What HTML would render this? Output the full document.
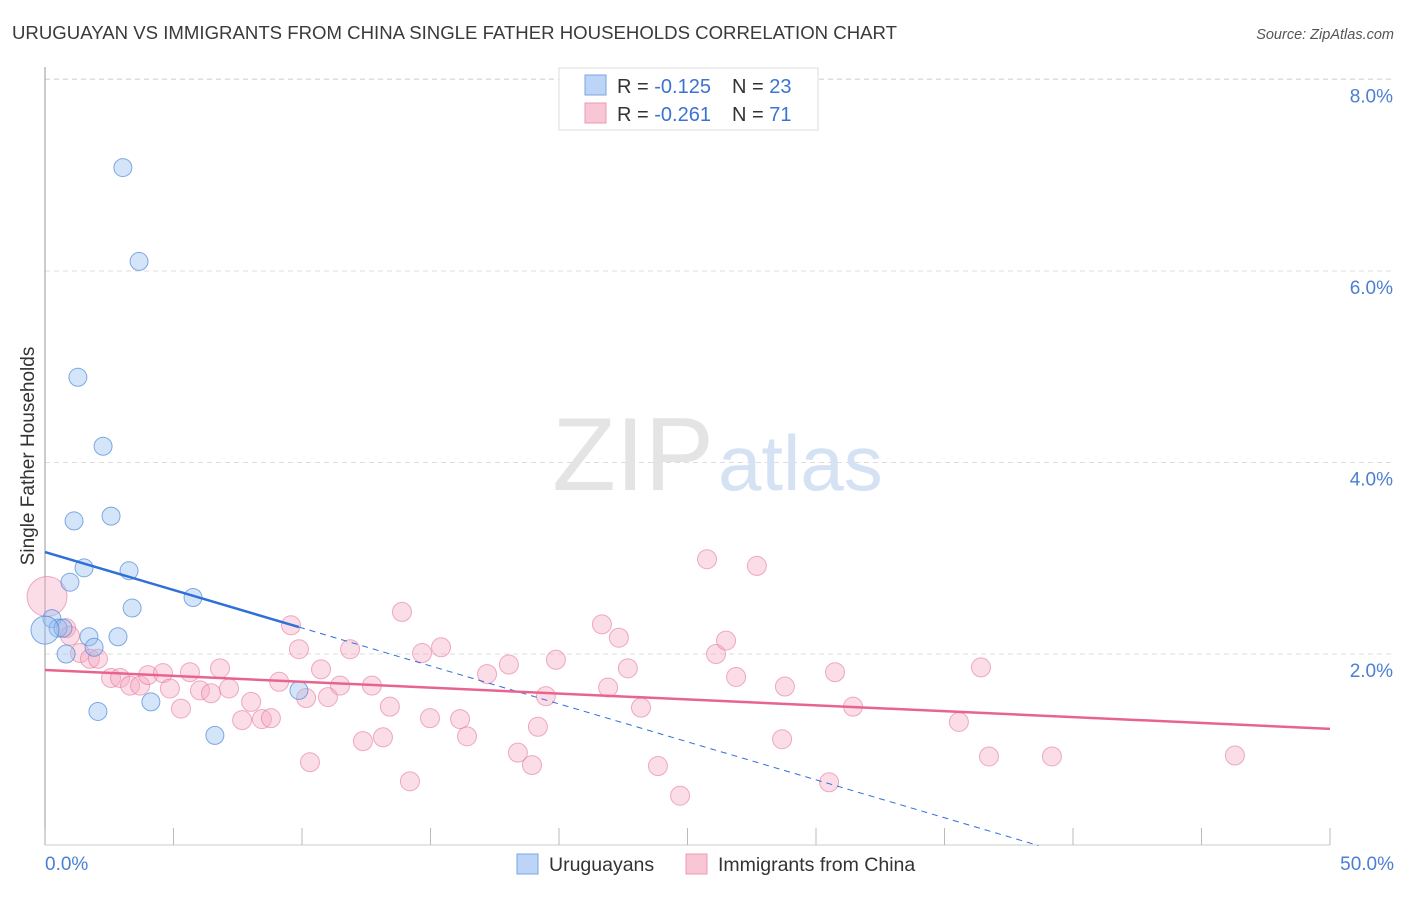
<!DOCTYPE html>
<html><head><meta charset="utf-8"><style>
body{margin:0;background:#fff;font-family:"Liberation Sans",sans-serif;}
svg text{font-family:"Liberation Sans",sans-serif;}
</style></head><body>
<svg id="chart" width="1406" height="892" xmlns="http://www.w3.org/2000/svg">
<text x="12" y="39" font-size="18.6" fill="#3a3a3a" textLength="885">URUGUAYAN VS IMMIGRANTS FROM CHINA SINGLE FATHER HOUSEHOLDS CORRELATION CHART</text>
<text x="1394" y="39" font-size="14.5" fill="#555" text-anchor="end" font-style="italic">Source: ZipAtlas.com</text>
<g id="grid"></g>
<text x="714" y="490" font-size="104" fill="#e4e4e4" text-anchor="end" font-family="Liberation Serif">ZIP</text>
<text x="718" y="490" font-size="78" fill="#d4e2f4">atlas</text>
<line x1="45" y1="67" x2="45" y2="845" stroke="#aaa" stroke-width="1.2"/>
<line x1="45" y1="845" x2="1330" y2="845" stroke="#ccc" stroke-width="1"/>
<g id="xticks"></g>
<text transform="translate(34,456) rotate(-90)" font-size="19" fill="#333" text-anchor="middle">Single Father Households</text>
<text x="45" y="870" font-size="19" fill="#4a7fd4">0.0%</text>
<text x="1394" y="870" font-size="19" fill="#4a7fd4" text-anchor="end">50.0%</text>
<g id="pinkpts"></g>
<g id="bluepts"></g>
<g id="lines"></g>
<g>
<rect x="559" y="68" width="259" height="62" fill="#fff" stroke="#ddd"/>
<rect x="585" y="75" width="21" height="20" fill="#bcd4f5" stroke="#7ba6e4"/>
<rect x="585" y="103" width="21" height="20" fill="#f9c6d5" stroke="#eb9ab4"/>
<text x="617" y="93" font-size="20" fill="#333">R = <tspan fill="#3b73d4">-0.125</tspan><tspan x="732">N = </tspan><tspan fill="#3b73d4">23</tspan></text>
<text x="617" y="121" font-size="20" fill="#333">R = <tspan fill="#3b73d4">-0.261</tspan><tspan x="732">N = </tspan><tspan fill="#3b73d4"> 71</tspan></text>
</g>
<g>
<rect x="517" y="854" width="21" height="20" fill="#bcd4f5" stroke="#7ba6e4"/>
<text x="549" y="871" font-size="19.5" fill="#333">Uruguayans</text>
<rect x="686" y="854" width="21" height="20" fill="#f9c6d5" stroke="#eb9ab4"/>
<text x="718" y="871" font-size="19.5" fill="#333">Immigrants from China</text>
</g>
</svg>
<script>
const yTicks=[2,4,6,8];
const yTickLabels=["2.0%","4.0%","6.0%","8.0%"];
const xTicks=[0,5,10,15,20,25,30,35,40,45,50];
const blueX=[3.03,3.66,1.28,2.26,1.13,2.57,0.97,1.52,3.27,3.39,5.76,0.27,0.51,0.70,1.71,2.84,0.82,1.91,4.12,2.06,6.61,9.88,0];
const blueY=[7.08,6.10,4.89,4.17,3.39,3.44,2.75,2.90,2.87,2.48,2.59,2.37,2.27,2.27,2.18,2.18,2.00,2.07,1.50,1.40,1.15,1.62,2.25];
const pinkX=[0.08,0.82,0.97,1.36,1.75,2.06,2.57,2.92,3.31,3.70,4.01,4.59,4.86,5.29,5.64,6.03,6.46,6.81,7.16,7.67,8.02,8.44,8.79,9.11,9.57,9.88,10.16,10.31,10.74,11.01,11.48,11.87,12.37,12.72,13.15,13.42,13.89,14.20,14.67,14.98,15.41,16.15,16.42,17.20,18.05,18.40,18.95,19.18,19.49,19.88,21.67,21.91,22.33,22.68,23.19,23.85,24.71,25.76,26.11,26.50,26.89,27.70,28.68,28.79,30.51,30.74,31.44,35.56,36.42,36.73,39.18,46.30];
const pinkY=[2.60,2.27,2.19,2.01,1.95,1.95,1.75,1.75,1.67,1.67,1.78,1.80,1.64,1.43,1.81,1.62,1.59,1.85,1.64,1.31,1.50,1.32,1.33,1.71,2.30,2.05,1.54,0.87,1.84,1.55,1.67,2.05,1.09,1.67,1.13,1.45,2.44,0.67,2.01,1.33,2.07,1.32,1.14,1.79,1.89,0.97,0.84,1.24,1.56,1.94,2.31,1.65,2.17,1.85,1.44,0.83,0.52,2.99,2.00,2.14,1.76,2.92,1.11,1.66,0.66,1.81,1.45,1.29,1.86,0.93,0.93,0.94];
const blueTrend=[3.065,-0.0793];
const pinkTrend=[1.833,-0.0123];
const sx=v=>45+v*25.7, sy=v=>845.5-v*95.75;
const NS="http://www.w3.org/2000/svg";
function mk(t,a,p){const e=document.createElementNS(NS,t);for(const k in a)e.setAttribute(k,a[k]);document.getElementById(p).appendChild(e);return e;}
yTicks.forEach((v,i)=>{
 const l=mk('line',{x1:45,x2:1393,y1:sy(v),y2:sy(v),stroke:'#ddd','stroke-dasharray':'5,4'},'grid');
 
 
 const t=mk('text',{x:1393,y:sy(v)+23,'font-size':19,fill:'#4a7fd4','text-anchor':'end'},'grid');
 t.textContent=yTickLabels[i];
 
 
});
const t0=mk('line',{x1:45,x2:1393,y1:79,y2:79,stroke:'#ddd','stroke-dasharray':'5,4'},'grid');


xTicks.forEach(v=>{
 const l=mk('line',{x1:sx(v),x2:sx(v),y1:828,y2:845,stroke:'#bbb'},'xticks');
 
 
});
pinkX.forEach((x,i)=>{
 const c=mk('circle',{cx:sx(x),cy:sy(pinkY[i]),r:i==0?20:9.5,fill:'rgba(244,170,195,0.4)',stroke:'rgba(230,120,155,0.6)','stroke-width':1},'pinkpts');
 
 
});
blueX.forEach((x,i)=>{
 const c=mk('circle',{cx:sx(x),cy:sy(blueY[i]),r:i==22?14:9,fill:'rgba(150,190,240,0.4)',stroke:'rgba(80,135,215,0.7)','stroke-width':1},'bluepts');
 
 
});
const bEnd=9.88, bZero=-blueTrend[0]/blueTrend[1];
let l=mk('line',{x1:sx(0),y1:sy(blueTrend[0]),x2:sx(bEnd),y2:sy(blueTrend[0]+blueTrend[1]*bEnd),stroke:'#2f6fd8','stroke-width':2.5},'lines');


l=mk('line',{x1:sx(bEnd),y1:sy(blueTrend[0]+blueTrend[1]*bEnd),x2:sx(bZero),y2:sy(0),stroke:'#2f6fd8','stroke-width':1,'stroke-dasharray':'6,5'},'lines');


l=mk('line',{x1:sx(0),y1:sy(pinkTrend[0]),x2:sx(50),y2:sy(pinkTrend[0]+pinkTrend[1]*50),stroke:'#e8648f','stroke-width':2.5},'lines');


</script>
</body></html>
